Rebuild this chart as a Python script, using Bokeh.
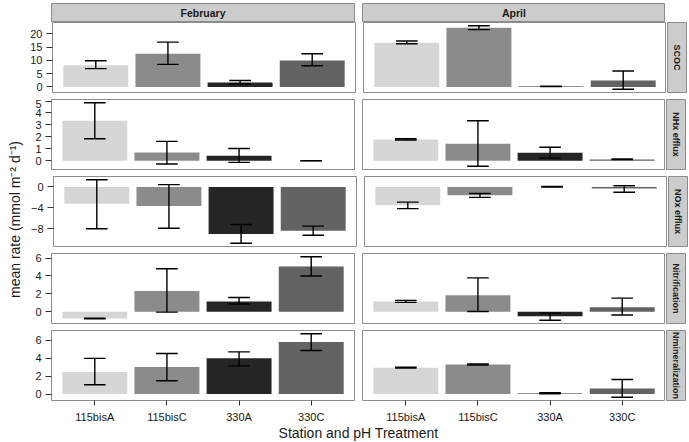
import math
from bokeh.plotting import figure
from bokeh.layouts import row, column
from bokeh.models import Range1d, FixedTicker, Grid
from bokeh.core.properties import value
from bokeh.embed import file_html
from bokeh.resources import INLINE

# ---------------- data ----------------
categories = ["115bisA", "115bisC", "330A", "330C"]
months = ["February", "April"]
variables = ["SCOC", "NHx efflux", "NOx efflux", "Nitrification", "Nmineralization"]
bar_colors = ["#D6D6D6", "#8B8B8B", "#252525", "#636363"]
y_ticks = [[0, 5, 10, 15, 20], [0, 1, 2, 3, 4, 5], [-8, -4, 0], [0, 2, 4, 6], [0, 2, 4, 6]]
x_title = "Station and pH Treatment"
y_title = "mean rate (mmol m\u207b\u00b2 d\u207b\u00b9)"

scoc_feb_mean = [8.2, 12.5, 1.7, 10.0]
scoc_feb_lo = [6.9, 8.5, 1.2, 8.0]
scoc_feb_hi = [9.9, 16.9, 2.4, 12.5]
scoc_apr_mean = [16.7, 22.3, 0.2, 2.4]
scoc_apr_lo = [16.3, 21.6, 0.1, -0.9]
scoc_apr_hi = [17.3, 23.1, 0.3, 6.0]

nhx_feb_mean = [3.35, 0.69, 0.41, 0.0]
nhx_feb_lo = [1.84, -0.27, -0.14, -0.01]
nhx_feb_hi = [4.86, 1.62, 1.02, 0.01]
nhx_apr_mean = [1.78, 1.43, 0.66, 0.11]
nhx_apr_lo = [1.73, -0.47, 0.22, 0.09]
nhx_apr_hi = [1.84, 3.35, 1.13, 0.14]

nox_feb_mean = [-3.2, -3.65, -9.0, -8.4]
nox_feb_lo = [-8.0, -7.9, -10.8, -9.25]
nox_feb_hi = [1.4, 0.45, -7.2, -7.5]
nox_apr_mean = [-3.5, -1.6, 0.0, -0.3]
nox_apr_lo = [-4.15, -2.0, -0.02, -1.0]
nox_apr_hi = [-2.9, -1.25, 0.08, 0.25]

nit_feb_mean = [-0.74, 2.33, 1.16, 5.05]
nit_feb_lo = [-0.78, -0.04, 0.87, 4.0]
nit_feb_hi = [-0.70, 4.8, 1.6, 6.15]
nit_apr_mean = [1.16, 1.85, -0.51, 0.51]
nit_apr_lo = [1.05, 0.04, -0.95, -0.36]
nit_apr_hi = [1.27, 3.78, -0.15, 1.53]

nmin_feb_mean = [2.47, 3.02, 4.0, 5.82]
nmin_feb_lo = [1.05, 1.49, 3.16, 4.87]
nmin_feb_hi = [4.0, 4.55, 4.73, 6.76]
nmin_apr_mean = [2.95, 3.3, 0.07, 0.62]
nmin_apr_lo = [2.91, 3.25, 0.04, -0.36]
nmin_apr_hi = [3.0, 3.36, 0.15, 1.64]

data = [
    [(scoc_feb_mean, scoc_feb_lo, scoc_feb_hi), (scoc_apr_mean, scoc_apr_lo, scoc_apr_hi)],
    [(nhx_feb_mean, nhx_feb_lo, nhx_feb_hi), (nhx_apr_mean, nhx_apr_lo, nhx_apr_hi)],
    [(nox_feb_mean, nox_feb_lo, nox_feb_hi), (nox_apr_mean, nox_apr_lo, nox_apr_hi)],
    [(nit_feb_mean, nit_feb_lo, nit_feb_hi), (nit_apr_mean, nit_apr_lo, nit_apr_hi)],
    [(nmin_feb_mean, nmin_feb_lo, nmin_feb_hi), (nmin_apr_mean, nmin_apr_lo, nmin_apr_hi)],
]

# ---------------- layout constants ----------------
FONT = "Liberation Sans"
FW = 303
FH = 70
TOP_PAD = 3
STRIP_H = 19
STRIP_W = 19
YL_W = 27
LEFT_B = 24
GAP_L = 4
GAP_R = 4
ROW_GAP = 7
AXIS_B = 24
XT_H = 16
BORDER = "#8c8c8c"
TXT = "#1a1a1a"

xs = list(range(1, len(categories) + 1))


def y_limits(i):
    vals = [0]
    for m in data[i]:
        vals += list(m[0]) + list(m[1]) + list(m[2])
    lo, hi = min(vals), max(vals)
    span = hi - lo
    return lo - 0.05 * span, hi + 0.05 * span


def base_fig(**kw):
    p = figure(toolbar_location=None, output_backend="svg", **kw)
    p.background_fill_color = "white"
    p.border_fill_color = "white"
    for r in list(p.center):
        if isinstance(r, Grid):
            r.visible = False
    p.xgrid.grid_line_color = None
    p.ygrid.grid_line_color = None
    return p


def panel(vi, mi):
    left = mi == 0
    bottom = vi == len(variables) - 1
    ylo, yhi = y_limits(vi)
    p = base_fig(frame_width=FW, frame_height=FH,
                 x_range=Range1d(0.4, len(categories) + 0.6),
                 y_range=Range1d(ylo, yhi),
                 x_axis_location="below" if bottom else None,
                 y_axis_location="left" if left else None,
                 min_border_left=LEFT_B if left else GAP_R,
                 min_border_right=GAP_L if left else 0,
                 min_border_top=0,
                 min_border_bottom=AXIS_B if bottom else ROW_GAP)
    p.outline_line_color = BORDER
    p.outline_line_width = 1
    mean, lo, hi = data[vi][mi]
    p.vbar(x=xs, top=mean, bottom=0, width=0.9, fill_color=bar_colors, line_color=None)
    p.segment(x0=xs, y0=lo, x1=xs, y1=hi, line_color="black", line_width=1.4)
    hw = 0.15
    p.segment(x0=[x - hw for x in xs], y0=hi, x1=[x + hw for x in xs], y1=hi,
              line_color="black", line_width=1.4)
    p.segment(x0=[x - hw for x in xs], y0=lo, x1=[x + hw for x in xs], y1=lo,
              line_color="black", line_width=1.4)
    for ax in p.axis:
        ax.axis_line_color = None
        ax.major_tick_line_color = "#333333"
        ax.major_tick_in = 0
        ax.minor_tick_line_color = None
        ax.major_label_text_font = FONT
        ax.major_label_text_font_size = "11px"
        ax.major_label_text_color = TXT
    if left:
        p.yaxis.ticker = FixedTicker(ticks=y_ticks[vi])
        p.yaxis.major_tick_out = 6
        p.yaxis.major_label_standoff = 4
    if bottom:
        p.xaxis.ticker = FixedTicker(ticks=xs)
        p.xaxis.major_label_overrides = {x: c for x, c in zip(xs, categories)}
        p.xaxis.major_tick_out = 5
        p.xaxis.major_label_standoff = 5
    return p


def strip(text, fw, fh, bl, br, bt, bb, angle, size):
    s = base_fig(frame_width=fw, frame_height=fh,
                 x_range=Range1d(0, 1), y_range=Range1d(0, 1),
                 x_axis_location=None, y_axis_location=None,
                 min_border_left=bl, min_border_right=br,
                 min_border_top=bt, min_border_bottom=bb)
    s.background_fill_color = "#cccccc"
    s.outline_line_color = BORDER
    s.text(x=[0.5], y=[0.5], text=[text], angle=angle,
           text_align="center", text_baseline="middle",
           text_font=value(FONT), text_font_style="bold",
           text_font_size=size, text_color=TXT)
    return s


# top strips
top_row = row(
    strip(months[0], FW, STRIP_H, LEFT_B, GAP_L, TOP_PAD, 0, 0, "10.5px"),
    strip(months[1], FW, STRIP_H, GAP_R, 0, TOP_PAD, 0, 0, "10.5px"),
)

rows = [top_row]
for vi, var in enumerate(variables):
    bottom = vi == len(variables) - 1
    rows.append(row(
        panel(vi, 0),
        panel(vi, 1),
        strip(var, STRIP_W, FH, 1, 1, 0, AXIS_B if bottom else ROW_GAP, -math.pi / 2, "9px"),
    ))

total_w = LEFT_B + FW + GAP_L + GAP_R + FW + 1 + STRIP_W + 1
xt = base_fig(frame_width=total_w, frame_height=XT_H,
              x_range=Range1d(0, total_w), y_range=Range1d(XT_H, 0),
              x_axis_location=None, y_axis_location=None,
              min_border_left=0, min_border_right=0, min_border_top=0, min_border_bottom=0)
xt.outline_line_color = None
xt.text(x=[(LEFT_B + LEFT_B + FW + GAP_L + GAP_R + FW) / 2], y=[7], text=[x_title],
        text_align="center", text_baseline="middle",
        text_font=value(FONT), text_font_size="14px", text_color=TXT)
rows.append(xt)

grid = column(*rows)

total_h = TOP_PAD + STRIP_H + 4 * (FH + ROW_GAP) + FH + AXIS_B + XT_H
yl = base_fig(frame_width=YL_W, frame_height=total_h,
              x_range=Range1d(0, YL_W), y_range=Range1d(total_h, 0),
              x_axis_location=None, y_axis_location=None,
              min_border_left=0, min_border_right=0, min_border_top=0, min_border_bottom=0)
yl.outline_line_color = None
yl.text(x=[14], y=[(TOP_PAD + STRIP_H + TOP_PAD + STRIP_H + 5 * FH + 4 * ROW_GAP) / 2 + 8],
        text=[y_title], angle=math.pi / 2, text_align="center", text_baseline="middle",
        text_font=value(FONT), text_font_size="14px", text_color=TXT)

layout = row(yl, grid)

open("out.html", "w").write(file_html(layout, INLINE))
